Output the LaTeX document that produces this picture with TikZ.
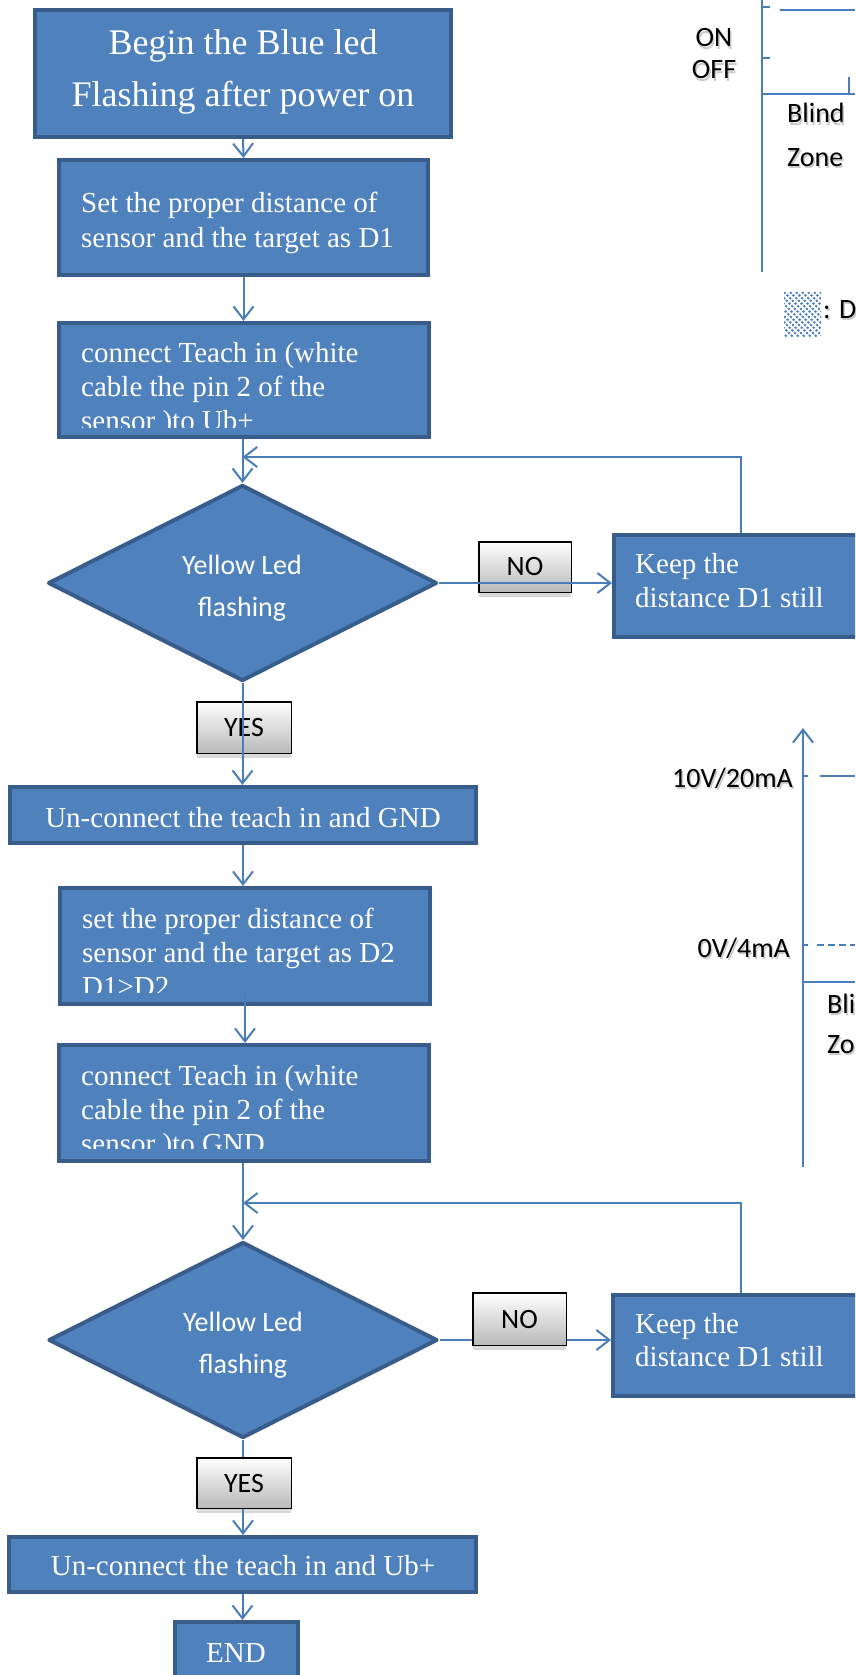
\documentclass[tikz,border=0pt]{standalone}
\usepackage{fontspec}
\setmainfont{Liberation Serif}
\newfontfamily\calfont{Carlito}
\usetikzlibrary{arrows.meta,shapes.geometric,shadows,calc}
\definecolor{boxfill}{HTML}{4F81BD}
\definecolor{boxline}{HTML}{385D8A}
\definecolor{conn}{HTML}{4A7EBB}
\newcommand\shtxt[4]{% anchor, position, name, text
  \node[ctext, anchor=#1, text=black!45, opacity=0.45] (#3s) at ($(#2)+(1.5,2.5)$) {#4};
  \node[ctext, anchor=#1] (#3) at (#2) {#4};}
\begin{document}
\begin{tikzpicture}[x=1pt,y=-1pt,
  stepbox/.style={rectangle, draw=boxline, fill=boxfill, line width=4pt, inner sep=0pt},
  decision/.style={diamond, draw=boxline, fill=boxfill, line width=4pt, inner sep=0pt, line join=round, minimum width=389pt, minimum height=196pt},
  tag/.style={rectangle, draw=black, line width=1.5pt, top color=white, bottom color=gray!55, inner sep=0pt, font=\calfont\fontsize{28}{34}\selectfont, drop shadow={shadow xshift=0pt, shadow yshift=-5pt, opacity=0.3}},
  bigtext/.style={text=white, inner sep=0pt, font=\fontsize{36}{52}\selectfont},
  wtext/.style={text=white, inner sep=0pt, font=\fontsize{29}{34}\selectfont},
  dtext/.style={text=white, inner sep=0pt, font=\calfont\fontsize{28}{42}\selectfont},
  ctext/.style={text=black, inner sep=0pt, font=\calfont\fontsize{28}{42}\selectfont},
  flow/.style={draw=conn, line width=2pt, -{Straight Barb[length=13pt,width=20pt]}},
  chart/.style={draw=conn, line width=2pt},
]
\useasboundingbox (0,0) rectangle (855,1675);
\clip (0,0) rectangle (855,1675);

% ---------- process boxes ----------
\node[stepbox, minimum width=416pt, minimum height=127pt] (b1) at (243,73.5) {};
\node[stepbox, minimum width=369pt, minimum height=115pt] (b2) at (243.5,217.5) {};
\node[stepbox, minimum width=370pt, minimum height=114pt] (b3) at (244,380) {};
\node[decision] (d1) at (242.5,583) {};
\node[stepbox, minimum width=254pt, minimum height=102pt] (k1) at (741,586) {};
\node[stepbox, minimum width=466pt, minimum height=56pt] (b4) at (243,815) {};
\node[stepbox, minimum width=370pt, minimum height=116pt] (b5) at (245,946) {};
\node[stepbox, minimum width=370pt, minimum height=116pt] (b6) at (244,1103) {};
\node[decision] (d2) at (243,1340) {};
\node[stepbox, minimum width=255pt, minimum height=101pt] (k2) at (740.5,1345.5) {};
\node[stepbox, minimum width=467pt, minimum height=55pt] (b7) at (242.5,1564.5) {};
\node[stepbox, minimum width=123pt, minimum height=80pt] (e) at (236.5,1662) {};

% ---------- texts ----------
\node[bigtext, anchor=base] (t1a) at (243,55) {Begin the Blue led};
\node[bigtext, anchor=base] (t1b) at (243,107) {Flashing after power on};
\node[wtext, anchor=base west] (t2a) at (81,212) {Set the proper distance of};
\node[wtext, anchor=base west] (t2b) at (81,247) {sensor and the target as D1};
\begin{scope}
  \clip (57,321) rectangle (431,427);
  \node[wtext, anchor=base west] (t3a) at (81,362) {connect Teach in (white};
  \node[wtext, anchor=base west] (t3b) at (81,396) {cable the pin 2 of the};
  \node[wtext, anchor=base west] (t3c) at (81,430) {sensor )to Ub+};
\end{scope}
\node[dtext, anchor=base] (td1a) at (242,574) {Yellow Led};
\node[dtext, anchor=base] (td1b) at (242,616) {flashing};
\node[wtext, anchor=base west] (tk1a) at (635,573) {Keep the};
\node[wtext, anchor=base west] (tk1b) at (635,607) {distance D1 still};
\node[wtext, anchor=base] (t4) at (243,827) {Un-connect the teach in and GND};
\begin{scope}
  \clip (58,886) rectangle (432,992);
  \node[wtext, anchor=base west] (t5a) at (82,928) {set the proper distance of};
  \node[wtext, anchor=base west] (t5b) at (82,962) {sensor and the target as D2};
  \node[wtext, anchor=base west] (t5c) at (82,996) {D1>D2};
\end{scope}
\begin{scope}
  \clip (57,1043) rectangle (431,1148);
  \node[wtext, anchor=base west] (t6a) at (81,1085) {connect Teach in (white};
  \node[wtext, anchor=base west] (t6b) at (81,1119) {cable the pin 2 of the};
  \node[wtext, anchor=base west] (t6c) at (81,1153) {sensor )to GND};
\end{scope}
\node[dtext, anchor=base] (td2a) at (243,1331) {Yellow Led};
\node[dtext, anchor=base] (td2b) at (243,1373) {flashing};
\node[wtext, anchor=base west] (tk2a) at (635,1333) {Keep the};
\node[wtext, anchor=base west] (tk2b) at (635,1366) {distance D1 still};
\node[wtext, anchor=base] (t7) at (243,1575) {Un-connect the teach in and Ub+};
\node[wtext, anchor=base] (te) at (236,1662) {END};

% ---------- first decision tags (under the connectors) ----------
\node[tag, minimum width=92.5pt, minimum height=50.5pt] (no1) at (525,567) {NO};
\node[tag, minimum width=94.5pt, minimum height=51.5pt] (yes1) at (244,727.5) {YES};

% ---------- connectors ----------
\draw[flow] (b1.south) -- (b2.north);
\draw[flow] (b2.south) -- (b2.south |- b3.north);
\draw[flow] (d1.north |- b3.south) -- (d1.north);
\coordinate (j1) at (242.5,457);
\draw[flow] (k1.north) |- (j1);
\draw[flow] (d1.east) -- (d1.east -| k1.west);
\draw[flow] (d1.south) -- (d1.south |- b4.north);
\draw[flow] (b4.south) -- (b4.south |- b5.north);
\draw[flow] ($(b5.south)+(0,-13)$) -- (b5.south |- b6.north);
\draw[flow] (d2.north |- b6.south) -- (d2.north);
\coordinate (j2) at (243,1203);
\draw[flow] (k2.north) |- (j2);
\draw[flow] (d2.east) -- (d2.east -| k2.west);
\draw[flow] (d2.south) -- (d2.south |- b7.north);
\draw[flow] (b7.south) -- (b7.south |- e.north);

% ---------- second decision tags (over the connectors) ----------
\node[tag, minimum width=93.5pt, minimum height=52.5pt] (no2) at (519.5,1319) {NO};
\node[tag, minimum width=94.5pt, minimum height=50.5pt] (yes2) at (244,1483) {YES};

% ---------- top right chart ----------
\draw[chart] (762,0) -- (762,272);
\draw[chart] (762,7) -- (770,7);
\draw[chart] (762,58) -- (770,58);
\draw[chart] (780,10) -- (855,10);
\draw[chart] (762,94) -- (855,94);
\draw[chart] (849,77) -- (849,94);
\shtxt{base}{714,47}{on}{ON}
\shtxt{base}{714,79}{off}{OFF}
\shtxt{base west}{787,123}{blind1}{Blind}
\shtxt{base west}{787,166}{zone1}{Zone}
\begin{scope}
  \clip (784,292) rectangle (821,337);
  \foreach \i in {-48,-42,...,42}
    \draw[conn, line width=1.8pt, dash pattern=on 2.2pt off 1.6pt] (784+\i,292) -- (829+\i,337);
\end{scope}
\shtxt{base west}{823,318}{legend}{: D}

% ---------- lower right chart ----------
\draw[chart, -{Straight Barb[length=13pt,width=20pt]}] (803,1167) -- (803,728);
\draw[chart] (803,776) -- (808,776);
\draw[chart] (820,776) -- (855,776);
\draw[chart] (803,945) -- (808,945);
\draw[conn, line width=1.6pt, dash pattern=on 7pt off 4pt] (817,945) -- (855,945);
\draw[chart] (803,982) -- (855,982);
\shtxt{base east}{793,787}{v10}{10V/20mA}
\shtxt{base east}{790,957}{v0}{0V/4mA}
\shtxt{base west}{827,1013}{blind2}{Bli}
\shtxt{base west}{827,1053}{zone2}{Zo}
\end{tikzpicture}
\end{document}
